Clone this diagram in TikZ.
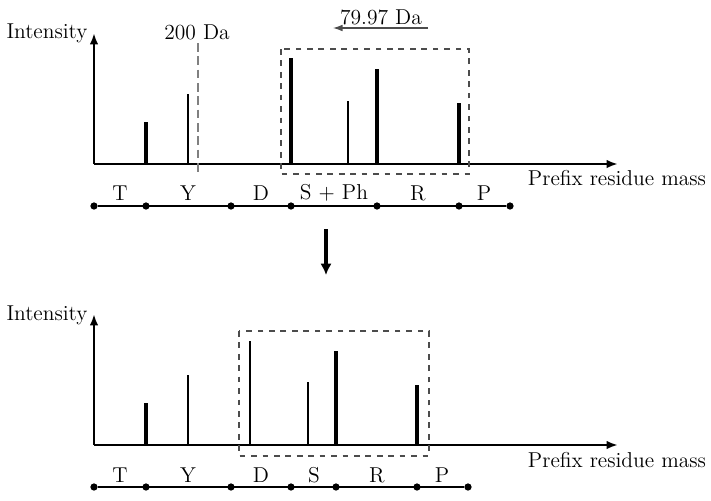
\documentclass[tikz,border=0pt]{standalone}
\usetikzlibrary{arrows.meta}
\tikzset{
  every node/.style={font=\fontsize{11.3}{13}\selectfont},
  axis/.style={line width=1.3pt,-{Latex[length=6pt,width=4.5pt]}},
  strong/.style={line width=2pt},
  weak/.style={line width=0.6pt},
  residue/.style={circle,fill,inner sep=0pt,minimum size=3.8pt},
  chain/.style={line width=1pt},
  frame/.style={dashed,draw=black!70,line width=0.6pt},
}

\begin{document}
\begin{tikzpicture}[x=0.525pt,y=-0.525pt]
  \useasboundingbox (0,0) rectangle (711,500);

  % upper spectrum (with phosphate)
  \coordinate (o1) at (94,164);
  \draw[axis] (o1) -- (94,33) coordinate (yt1);
  \draw[axis] (o1) -- (618,164) coordinate (xt1);
  \node (int1) at (47,33) {Intensity};
  \node (pm1) at (617,178) {Prefix residue mass};
  \foreach \x/\h/\s in {146/122/strong,188/94/weak,291/58/strong,348/101/weak,377/69/strong,459/103/strong}
    \draw[\s] (\x,164) -- (\x,\h);
  \draw[draw=black!50,line width=1pt,dash pattern=on 4.5pt off 2.5pt] (198,43) -- (198,175);
  \node (da200) at (197,32) {200 Da};
  \draw[frame] (281,49) rectangle (469,174);
  \coordinate (sh1) at (428,28);
  \coordinate (sh2) at (333,28);
  \draw[draw=black!70,line width=0.6pt,-{Latex[length=5pt,width=3.5pt]}] (sh1) -- (sh2);
  \node (da80) at (381,17) {79.97 Da};
  % residue chain
  \foreach \x [count=\i] in {94,146,231,291,377,459,510}
    \node[residue] (t\i) at (\x,206) {};
  \draw[chain] (t1) -- (t7);
  \foreach \x/\t in {120/T,188/Y,261/D,334/S $+$ Ph,418/R,484/P}
    \node at (\x,193) {\t};

  % step down
  \coordinate (go) at (326,229);
  \coordinate (come) at (326,275);
  \draw[line width=2.6pt,-{Latex[length=6pt,width=6pt]}] (go) -- (come);

  % lower spectrum (without phosphate)
  \begin{scope}[shift={(0,281)}]
    \coordinate (o2) at (94,164);
    \draw[axis] (o2) -- (94,33) coordinate (yt2);
    \draw[axis] (o2) -- (618,164) coordinate (xt2);
    \node (int2) at (47,34) {Intensity};
    \node (pm2) at (617,179) {Prefix residue mass};
    \foreach \x/\h/\s in {146/122/strong,188/94/weak,250/60/weak,308/101/weak,336/70/strong,417/104/strong}
      \draw[\s] (\x,164) -- (\x,\h);
    \draw[frame] (239,50) rectangle (429,175);
    \foreach \x [count=\i] in {94,146,231,291,336,417,468}
      \node[residue] (b\i) at (\x,206) {};
    \draw[chain] (b1) -- (b7);
    \foreach \x/\t in {120/T,188/Y,261/D,314/S,377/R,442/P}
      \node at (\x,194) {\t};
  \end{scope}
\end{tikzpicture}
\end{document}
